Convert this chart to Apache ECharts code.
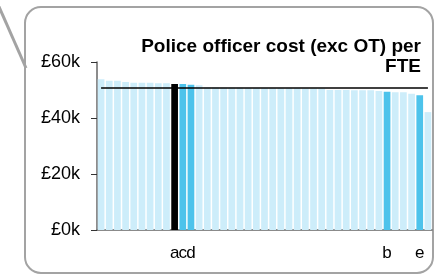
<!DOCTYPE html>
<html>
<head>
<meta charset="utf-8">
<script src="https://cdn.jsdelivr.net/npm/echarts@6/dist/echarts.min.js"></script>
<style>
  html, body { margin: 0; padding: 0; background: #fff; }
  #main { width: 434px; height: 276px; }
</style>
</head>
<body>
<div id="main"></div>
<script>
// tick labels under the bars (most bars have none)
const tickLabels = ['', '', '', '', '', '', '', '', '', 'a', 'c', 'd', '', '', '', '', '', '', '', '', '',
  '', '', '', '', '', '', '', '', '', '', '', '', '', '', 'b', '', '', '', 'e', '']
// cost per FTE, £
const costs = [53800, 53300, 53300, 52900, 52600, 52600, 52600, 52400, 52400, 52100, 52100, 51900, 51700,
  50900, 50900, 50800, 50800, 50800, 50700, 50700, 50600, 50600, 50600, 50600, 50600, 50500, 50500, 50500,
  50000, 50000, 50000, 49950, 49900, 49900, 49600, 49400, 49200, 49200, 48700, 48100, 42100]
const average = 50900
const yTicks = [0, 20000, 40000, 60000]

const chart = echarts.init(document.getElementById('main'))

const barData = costs.map((v, i) => {
  let color = '#cdedfa'
  if (tickLabels[i] === 'a') color = '#000000'
  else if (tickLabels[i] !== '') color = '#4dc3eb'
  return { value: v, itemStyle: { color: color } }
})

const font = 'Liberation Sans, Arial, sans-serif'

chart.setOption({
  animation: false,
  title: {
    text: 'Police officer cost (exc OT) per\nFTE',
    left: 416,
    top: 32,
    textAlign: 'right',
    textStyle: { fontFamily: font, fontSize: 19, fontWeight: 'bold', color: '#000', lineHeight: 20 }
  },
  graphic: [
    {
      type: 'rect',
      shape: { x: 25, y: 7, width: 408, height: 266, r: 16 },
      style: { fill: 'none', stroke: '#a3a3a3', lineWidth: 2 },
      z: -10
    },
    {
      type: 'line',
      shape: { x1: -4, y1: 0, x2: 26, y2: 68 },
      style: { stroke: '#a3a3a3', lineWidth: 3 },
      z: -10
    }
  ],
  grid: { left: 97, top: 62, width: 335, height: 168 },
  xAxis: {
    type: 'category',
    data: tickLabels,
    axisLine: { lineStyle: { color: '#666', width: 1.5 } },
    axisTick: { show: false },
    axisLabel: { interval: 0, margin: 15, color: '#000', fontFamily: font, fontSize: 17 }
  },
  yAxis: {
    type: 'value',
    min: yTicks[0],
    max: yTicks[yTicks.length - 1],
    interval: 20000,
    axisLine: { show: true, lineStyle: { color: '#666', width: 1.5 } },
    axisTick: { show: true, length: 6, lineStyle: { color: '#333', width: 1 } },
    splitLine: { show: false },
    axisLabel: {
      margin: 17,
      color: '#000',
      fontFamily: font,
      fontSize: 18,
      formatter: v => '£' + (v / 1000) + 'k'
    }
  },
  series: [{
    type: 'bar',
    data: barData,
    barCategoryGap: '18%',
    markLine: {
      silent: true,
      symbol: 'none',
      label: { show: false },
      lineStyle: { color: '#000', width: 1.5, type: 'solid' },
      data: [[{ coord: [0, average] }, { coord: [costs.length - 1, average] }]]
    }
  }]
})
</script>
</body>
</html>
